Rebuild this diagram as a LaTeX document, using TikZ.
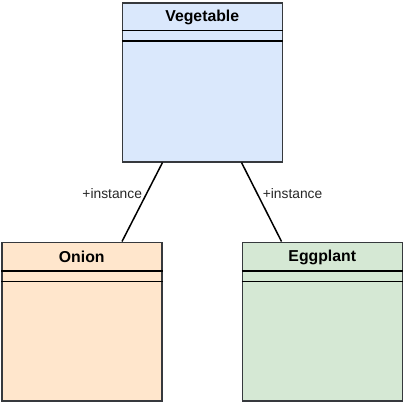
\documentclass[tikz,border=0pt]{standalone}
\usepackage{fontspec}
\setmainfont{Liberation Sans}
\usetikzlibrary{calc}
\definecolor{vegfill}{HTML}{DAE8FC}
\definecolor{onifill}{HTML}{FFE6CC}
\definecolor{eggfill}{HTML}{D5E8D4}
\definecolor{edgegray}{HTML}{36393D}
\begin{document}
\begin{tikzpicture}[x=1pt,y=-1pt,
  classbox/.style={draw=edgegray, line width=1.5pt, rectangle, minimum width=160pt, inner sep=0pt, anchor=north west},
  classtitle/.style={font=\fontsize{15.8}{18}\selectfont\bfseries, text=black, inner sep=0pt},
  divider/.style={draw=black, line width=1.6pt},
  conn/.style={draw=black, line width=1.5pt},
  lbl/.style={font=\fontsize{13.8}{16}\selectfont, text=black!85, inner sep=0pt}]
\useasboundingbox (0,0) rectangle (403,402);
% Vegetable
\node[classbox, fill=vegfill, minimum height=159pt] (veg) at (121.5,2) {};
\node[classtitle] (vegt) at ($(veg.north)+(0,15.5)$) {Vegetable};
\draw[divider] ($(veg.north west)+(0,28.5)$) -- ($(veg.north east)+(0,28.5)$);
\draw[divider] ($(veg.north west)+(0,39)$) -- ($(veg.north east)+(0,39)$);
% Onion
\node[classbox, fill=onifill, minimum height=158.5pt] (onion) at (1,241.5) {};
\node[classtitle] (oniont) at ($(onion.north)+(0,15.5)$) {Onion};
\draw[divider] ($(onion.north west)+(0,29.5)$) -- ($(onion.north east)+(0,29.5)$);
\draw[divider] ($(onion.north west)+(0,40)$) -- ($(onion.north east)+(0,40)$);
% Eggplant
\node[classbox, fill=eggfill, minimum height=158.5pt] (egg) at (241.5,241.5) {};
\node[classtitle] (eggt) at ($(egg.north)+(0,15.5)$) {Eggplant};
\draw[divider] ($(egg.north west)+(0,29.5)$) -- ($(egg.north east)+(0,29.5)$);
\draw[divider] ($(egg.north west)+(0,40)$) -- ($(egg.north east)+(0,40)$);
% connectors
\draw[conn] ($(veg.south west)+(41,0)$) -- node[lbl, pos=0.39, anchor=east, xshift=-4pt] (l1) {+instance} ($(onion.north west)+(121,0)$);
\draw[conn] ($(veg.south west)+(120,0)$) -- node[lbl, pos=0.39, anchor=west, xshift=5pt] (l2) {+instance} ($(egg.north west)+(40,0)$);
\end{tikzpicture}
\end{document}
